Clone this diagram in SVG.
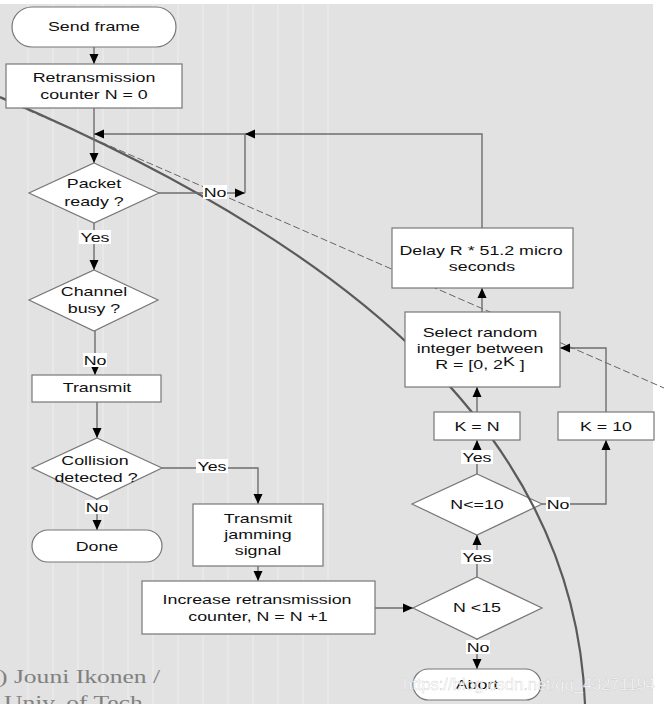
<svg xmlns="http://www.w3.org/2000/svg" width="664" height="704" viewBox="0 0 664 704">
<defs>
<marker id="ah" viewBox="0 0 10 10" refX="10" refY="5" markerWidth="10" markerHeight="10" markerUnits="userSpaceOnUse" orient="auto">
<path d="M0,0.5 L10,5 L0,9.5 z" fill="#000"/>
</marker>
<style>
.bg{fill:#e2e2e2}
.stripe{stroke:#eaeaea;stroke-width:1.5}
.n{fill:#fff;stroke:#777;stroke-width:1.2}
.c{fill:none;stroke:#6e6e6e;stroke-width:1.4}
.ca{fill:none;stroke:#6e6e6e;stroke-width:1.4;marker-end:url(#ah)}
.t{font-family:"Liberation Sans",Arial,sans-serif;font-size:13px;fill:#111;text-anchor:middle}
.lb{fill:#fff}
.arc{fill:none;stroke:#5a5a5a;stroke-width:2.2}
.dash{fill:none;stroke:#666;stroke-width:1;stroke-dasharray:7 3}
.cp{font-family:"Liberation Serif","Times New Roman",serif;font-size:18px;fill:#808080}
.wm{font-family:"Liberation Sans",Arial,sans-serif;font-size:16.5px;fill:#fff;fill-opacity:0.85;stroke:#b0b0b0;stroke-width:0.4;stroke-opacity:0.6;text-anchor:end}
</style>
</defs>
<rect x="0" y="0" width="664" height="704" fill="#fff"/>
<rect class="bg" x="0" y="4" width="653" height="700"/>
<g id="stripes">
<line class="stripe" x1="28" y1="4" x2="28" y2="704"/>
<line class="stripe" x1="53" y1="4" x2="53" y2="704"/>
<line class="stripe" x1="78" y1="4" x2="78" y2="704"/>
<line class="stripe" x1="103" y1="4" x2="103" y2="704"/>
<line class="stripe" x1="128" y1="4" x2="128" y2="704"/>
<line class="stripe" x1="153" y1="4" x2="153" y2="704"/>
<line class="stripe" x1="178" y1="4" x2="178" y2="704"/>
<line class="stripe" x1="203" y1="4" x2="203" y2="704"/>
<line class="stripe" x1="228" y1="4" x2="228" y2="704"/>
<line class="stripe" x1="253" y1="4" x2="253" y2="704"/>
<line class="stripe" x1="278" y1="4" x2="278" y2="704"/>
<line class="stripe" x1="303" y1="4" x2="303" y2="704"/>
<line class="stripe" x1="328" y1="4" x2="328" y2="704"/>
</g>
<g id="copyright">
<text class="cp" transform="translate(-1,683) scale(1.42,1)">) Jouni Ikonen /</text>
<text class="cp" transform="translate(4,709) scale(1.42,1)">Univ. of Tech</text>
</g>
<g id="n_le10">
<polygon class="n" points="477,474 542,504 477,535 412,504"/>
<text class="t" transform="translate(477,508.5) scale(1.37,1)">N&lt;=10</text>
</g>
<g id="overlay">
<path class="arc" d="M0,97 C360,250 575,440 585,704"/>
<path class="dash" d="M0,98 L664,388"/>
</g>
<g id="connectors">
<path class="ca" d="M94,47 V64"/>
<path class="ca" d="M94,108 V163"/>
<path class="ca" d="M482,228 V134 H245"/>
<path class="ca" d="M245,134 H94"/>
<path class="ca" d="M159,193 H245"/>
<path class="c" d="M245,193 V134"/>
<path class="ca" d="M94,223 V270"/>
<path class="ca" d="M95,331 V375"/>
<path class="ca" d="M97,402 V438"/>
<path class="ca" d="M162,468 H258 V504"/>
<path class="ca" d="M97,499 V530"/>
<path class="ca" d="M258,566 V581"/>
<path class="ca" d="M375,608 H413"/>
<path class="ca" d="M477,639 V669"/>
<path class="ca" d="M477,577 V535"/>
<path class="ca" d="M477,474 V440"/>
<path class="ca" d="M542,504 H606 V440"/>
<path class="ca" d="M477,412 V387"/>
<path class="ca" d="M606,412 V348 H560"/>
<path class="ca" d="M482,312 V288"/>
<g id="labels">
<rect class="lb" x="203" y="185" width="24" height="14"/>
<text class="t" transform="translate(215,196.5) scale(1.37,1)">No</text>
<rect class="lb" x="79" y="230" width="32" height="14"/>
<text class="t" transform="translate(95,241.5) scale(1.37,1)">Yes</text>
<rect class="lb" x="83" y="353" width="24" height="14"/>
<text class="t" transform="translate(95,364.5) scale(1.37,1)">No</text>
<rect class="lb" x="196" y="459" width="32" height="14"/>
<text class="t" transform="translate(212,470.5) scale(1.37,1)">Yes</text>
<rect class="lb" x="85" y="500" width="24" height="14"/>
<text class="t" transform="translate(97,511.5) scale(1.37,1)">No</text>
<rect class="lb" x="461" y="450" width="32" height="14"/>
<text class="t" transform="translate(477,461.5) scale(1.37,1)">Yes</text>
<rect class="lb" x="546" y="497" width="24" height="14"/>
<text class="t" transform="translate(558,508.5) scale(1.37,1)">No</text>
<rect class="lb" x="461" y="550" width="32" height="14"/>
<text class="t" transform="translate(477,561.5) scale(1.37,1)">Yes</text>
<rect class="lb" x="466" y="640" width="24" height="14"/>
<text class="t" transform="translate(478,651.5) scale(1.37,1)">No</text>
</g>
</g>
<g id="send_frame">
<rect class="n" x="12" y="7" width="164" height="40" rx="20"/>
<text class="t" transform="translate(94,30.5) scale(1.37,1)">Send frame</text>
</g>
<g id="retrans_counter">
<rect class="n" x="6" y="64" width="176" height="44"/>
<text class="t" transform="translate(94,81.5) scale(1.37,1)">Retransmission</text>
<text class="t" transform="translate(94,98.5) scale(1.37,1)">counter N = 0</text>
</g>
<g id="packet_ready">
<polygon class="n" points="94,163 159,193 94,223 29,193"/>
<text class="t" transform="translate(94,187.5) scale(1.37,1)">Packet</text>
<text class="t" transform="translate(94,205.5) scale(1.37,1)">ready ?</text>
</g>
<g id="channel_busy">
<polygon class="n" points="94,270 158,300 94,331 29,300"/>
<text class="t" transform="translate(94,295.5) scale(1.37,1)">Channel</text>
<text class="t" transform="translate(94,312.5) scale(1.37,1)">busy ?</text>
</g>
<g id="transmit">
<rect class="n" x="32" y="375" width="129" height="27"/>
<text class="t" transform="translate(97,391.5) scale(1.37,1)">Transmit</text>
</g>
<g id="collision">
<polygon class="n" points="97,438 162,468 97,499 32,468"/>
<text class="t" transform="translate(95,464.5) scale(1.37,1)">Collision</text>
<text class="t" transform="translate(96,481.5) scale(1.37,1)">detected ?</text>
</g>
<g id="done">
<rect class="n" x="32" y="530" width="130" height="32" rx="16"/>
<text class="t" transform="translate(97,550.5) scale(1.37,1)">Done</text>
</g>
<g id="jamming">
<rect class="n" x="193" y="504" width="130" height="62"/>
<text class="t" transform="translate(258,522.5) scale(1.37,1)">Transmit</text>
<text class="t" transform="translate(258,538.5) scale(1.37,1)">jamming</text>
<text class="t" transform="translate(258,554.5) scale(1.37,1)">signal</text>
</g>
<g id="increase">
<rect class="n" x="142" y="581" width="233" height="53"/>
<text class="t" transform="translate(257,603.5) scale(1.37,1)">Increase retransmission</text>
<text class="t" transform="translate(258,620.5) scale(1.37,1)">counter, N = N +1</text>
</g>
<g id="n_lt15">
<polygon class="n" points="477,577 542,608 477,639 413,608"/>
<text class="t" transform="translate(477,611.5) scale(1.37,1)">N &lt;15</text>
</g>
<g id="abort">
<rect class="n" x="413" y="669" width="128" height="31" rx="15.5"/>
<text class="t" transform="translate(477,688.5) scale(1.37,1)">Abort</text>
</g>
<g id="k_eq_n">
<rect class="n" x="434" y="412" width="86" height="28"/>
<text class="t" transform="translate(477,430.5) scale(1.37,1)">K = N</text>
</g>
<g id="k_eq_10">
<rect class="n" x="558" y="412" width="96" height="28"/>
<text class="t" transform="translate(606,430.5) scale(1.37,1)">K = 10</text>
</g>
<g id="select_random">
<rect class="n" x="405" y="312" width="155" height="75"/>
<text class="t" transform="translate(480,336.5) scale(1.37,1)">Select random</text>
<text class="t" transform="translate(480,352.5) scale(1.37,1)">integer between</text>
<text class="t" transform="translate(480,368.5) scale(1.37,1)">R = [0, 2<tspan dy="-3">K</tspan><tspan dy="3">  ]</tspan></text>
</g>
<g id="delay">
<rect class="n" x="392" y="228" width="181" height="60"/>
<text class="t" transform="translate(481,254.5) scale(1.37,1)">Delay R * 51.2 micro</text>
<text class="t" transform="translate(482,270.5) scale(1.37,1)">seconds</text>
</g>
<text class="wm" x="655" y="690">https://blog.csdn.net/qq_43271194</text>
</svg>
